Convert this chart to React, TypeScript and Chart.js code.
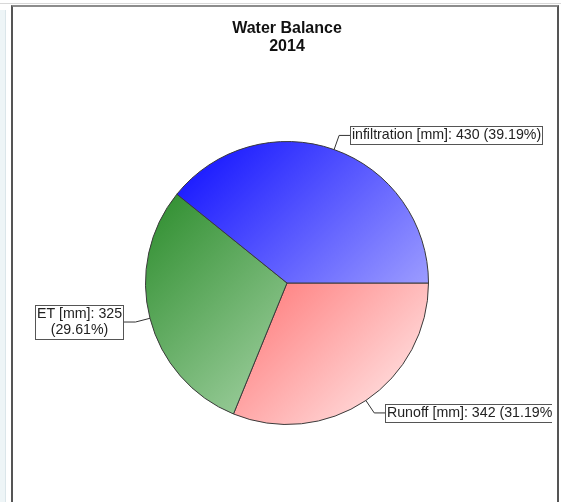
import React, { useEffect, useRef } from "react";
import { Chart, registerables } from "chart.js";

Chart.register(...registerables);

const titleLines = ["Water Balance", "2014"];
const categories = ["Runoff [mm]", "ET [mm]", "infiltration [mm]"];
const values = [342, 325, 430];
const percents = ["31.19%", "29.61%", "39.19%"];
const gradientStops = [
  ["#ff1f1f", "#fff1f1"],
  ["#1a821a", "#d8f0d8"],
  ["#0000ff", "#d0d0ff"],
];

const FONT = "'Liberation Sans', Arial, sans-serif";

function wrapText(ctx: CanvasRenderingContext2D, text: string, maxW: number): string[] {
  const words = text.split(" ");
  const lines: string[] = [];
  let cur = "";
  for (const w of words) {
    const test = cur ? cur + " " + w : w;
    if (cur && ctx.measureText(test).width > maxW) {
      lines.push(cur);
      cur = w;
    } else {
      cur = test;
    }
  }
  if (cur) lines.push(cur);
  return lines;
}

const calloutPlugin = {
  id: "callouts",
  afterDatasetsDraw(chart: any) {
    const meta = chart.getDatasetMeta(0);
    const ctx: CanvasRenderingContext2D = chart.ctx;
    ctx.save();
    ctx.beginPath();
    ctx.rect(14, 0, 538, chart.height);
    ctx.clip();
    ctx.font = "14.2px " + FONT;
    meta.data.forEach((arc: any, i: number) => {
      const p = arc.getProps(["x", "y", "startAngle", "endAngle", "outerRadius"], true);
      const mid = (p.startAngle + p.endAngle) / 2;
      const ex = p.x + Math.cos(mid) * p.outerRadius;
      const ey = p.y + Math.sin(mid) * p.outerRadius;
      const kx = p.x + Math.cos(mid) * (p.outerRadius + 15);
      const ky = p.y + Math.sin(mid) * (p.outerRadius + 15);
      const right = Math.cos(mid) >= 0;
      const bx = right ? kx + 11 : kx - 12;
      const text = `${categories[i]}: ${values[i]} (${percents[i]})`;
      const lines = right ? [text] : wrapText(ctx, text, bx - 30);
      const lh = 16;
      const tw = Math.max(...lines.map((l) => ctx.measureText(l).width));
      const bw = Math.round(tw + 3);
      const bh = lines.length * lh + 2;
      const left = right ? Math.round(bx) : Math.round(bx - bw);
      const top = Math.round(ky - bh / 2);

      ctx.strokeStyle = "#333";
      ctx.lineWidth = 1;
      ctx.beginPath();
      ctx.moveTo(ex, ey);
      ctx.lineTo(kx, ky);
      ctx.lineTo(bx, ky);
      ctx.stroke();

      ctx.fillStyle = "#ffffff";
      ctx.fillRect(left, top, bw, bh);
      ctx.strokeStyle = "#555";
      ctx.strokeRect(left + 0.5, top + 0.5, bw, bh);

      ctx.fillStyle = "#222";
      ctx.textAlign = "center";
      ctx.textBaseline = "middle";
      lines.forEach((l, j) => {
        ctx.fillText(l, left + bw / 2 + 0.5, top + 1.5 + lh * (j + 0.5));
      });
    });
    ctx.restore();
  },
};

export default function App() {
  const ref = useRef<HTMLCanvasElement | null>(null);

  useEffect(() => {
    if (!ref.current) return;
    const chart = new Chart(ref.current, {
      type: "pie",
      data: {
        labels: categories,
        datasets: [
          {
            data: values,
            backgroundColor: (c: any) => {
              const ca = c.chart.chartArea;
              const stops = gradientStops[c.dataIndex] || gradientStops[0];
              if (!ca) return stops[0];
              const g = c.chart.ctx.createLinearGradient(ca.left, ca.top, ca.right, ca.bottom);
              g.addColorStop(0, stops[0]);
              g.addColorStop(1, stops[1]);
              return g;
            },
            borderColor: "#3a3a3a",
            borderWidth: 1,
            hoverOffset: 0,
          },
        ],
      },
      options: {
        responsive: false,
        animation: false,
        devicePixelRatio: 1,
        rotation: 90,
        events: [],
        layout: { padding: { top: 0, left: 145, right: 132, bottom: 77 } },
        plugins: {
          legend: { display: false },
          tooltip: { enabled: false },
          title: {
            display: true,
            text: titleLines,
            color: "#111",
            font: { family: FONT, size: 16, weight: "bold", lineHeight: 1.125 },
            padding: { top: 19.5, bottom: 85.5 },
          },
        },
      } as any,
      plugins: [calloutPlugin],
    });
    return () => chart.destroy();
  }, []);

  return (
    <div
      style={{
        position: "fixed",
        left: 0,
        top: 0,
        width: 561,
        height: 502,
        background: "#fff",
        overflow: "hidden",
      }}
    >
      <div
        style={{
          position: "absolute",
          left: 0,
          top: 10,
          width: 5,
          height: 500,
          background: "#eef5f7",
          borderRight: "1px solid #dbe6ea",
        }}
      />
      <div
        style={{
          position: "absolute",
          left: 0,
          top: 3,
          width: 561,
          height: 0,
          borderTop: "1px solid #d8d8d8",
        }}
      />
      <div
        style={{
          position: "absolute",
          left: 11,
          top: 5,
          width: 544,
          height: 600,
          borderTop: "2px solid #8c8c8c",
          borderLeft: "2px solid #555",
          borderRight: "2px solid #555",
        }}
      />
      <canvas
        ref={ref}
        width={561}
        height={502}
        style={{ position: "absolute", left: 0, top: 0, width: 561, height: 502 }}
      />
    </div>
  );
}
